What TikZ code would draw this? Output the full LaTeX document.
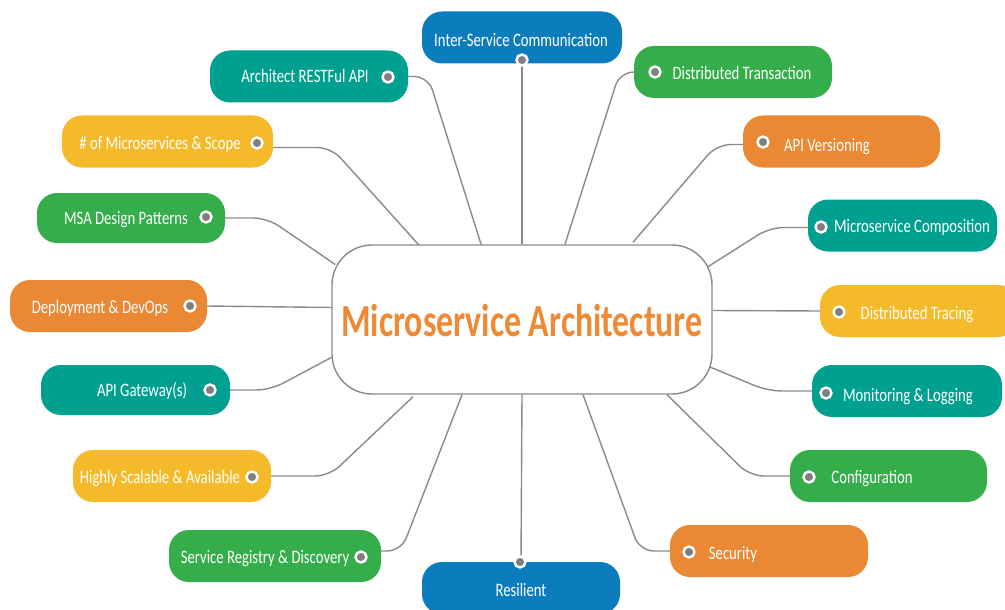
\documentclass[tikz,border=0pt]{standalone}
\usepackage{fontspec}
\setmainfont{Carlito}[FakeStretch=0.775]
\newfontfamily\hubfont{Carlito}[FakeStretch=0.735]
\usetikzlibrary{calc,backgrounds}

\definecolor{cteal}{HTML}{00A091}
\definecolor{cblue}{HTML}{0B7DBD}
\definecolor{cgreen}{HTML}{34AD4A}
\definecolor{corange}{HTML}{EA8834}
\definecolor{cyellow}{HTML}{F4BA29}
\definecolor{hubtext}{HTML}{EE8A35}
\definecolor{linkgray}{HTML}{8A8A8A}
\definecolor{dotgray}{HTML}{7F7F7F}

\tikzset{
  topic/.style={rectangle, rounded corners=20pt, draw=none, inner sep=0pt,
                minimum height=52pt},
  lbl/.style={anchor=base, text=white, inner sep=0pt,
              font=\fontsize{19}{22}\selectfont},
  dot/.style={circle, fill=dotgray, draw=white, line width=2.4pt,
              minimum size=11pt, inner sep=0pt},
  link/.style={draw=linkgray, line width=1.4pt, rounded corners=14pt},
  hubbox/.style={rectangle, rounded corners=40pt, draw=linkgray, line width=1.4pt,
                 fill=white, minimum width=380pt, minimum height=149pt, inner sep=0pt}
}

\begin{document}
\begin{tikzpicture}[x=1pt,y=-1pt]
\useasboundingbox (0,0) rectangle (1005,610);

% central topic
\node[hubbox] (hub) at (522,319.5) {};
\node[anchor=base, text=hubtext, inner sep=0pt,
      font=\hubfont\bfseries\fontsize{46}{50}\selectfont] (hubtitle) at (522,336) {Microservice Architecture};

% branch boxes
\node[topic, fill=cblue,   minimum width=200pt] (inter)    at (522,37.5)  {};
\node[topic, fill=cteal,   minimum width=198pt] (rest)     at (309,76.5)  {};
\node[topic, fill=cyellow, minimum width=211pt] (scope)    at (167.5,141.5) {};
\node[topic, fill=cgreen,  minimum width=188pt, minimum height=50pt] (msa) at (131,218) {};
\node[topic, fill=corange, minimum width=197pt] (deploy)   at (108.5,306) {};
\node[topic, fill=cteal,   minimum width=189pt, minimum height=50pt] (gateway) at (135.5,390) {};
\node[topic, fill=cyellow, minimum width=198pt] (highly)   at (172,476)   {};
\node[topic, fill=cgreen,  minimum width=212pt] (registry) at (275,556)   {};
\node[topic, fill=cblue,   minimum width=198pt] (resilient) at (521,588)  {};
\node[topic, fill=corange, minimum width=198pt] (security) at (769,551)   {};
\node[topic, fill=cgreen,  minimum width=197pt] (config)   at (888.5,476) {};
\node[topic, fill=cteal,   minimum width=190pt] (monitor)  at (907,391)   {};
\node[topic, fill=cyellow, minimum width=198pt] (tracing)  at (919,311)   {};
\node[topic, fill=cteal,   minimum width=189pt] (compos)   at (902.5,225.5) {};
\node[topic, fill=corange, minimum width=197pt] (version)  at (841.5,141.5) {};
\node[topic, fill=cgreen,  minimum width=198pt] (trans)    at (733,72)    {};

% connectors behind everything
\begin{scope}[on background layer]
\draw[link] (inter.south) -- (hub.north);
\draw[link] (rest.east) -- ++(20,0) -- ($(hub.north)+(-40,3)$);
\draw[link] ($(scope.east)+(0,6)$) -- ++(58,0) -- ($(hub.north)+(-102,2)$);
\draw[link] (msa.east) -- ++(42,0) -- ($(hub.west)+(4,-55)$);
\draw[link] (deploy.east) -- ($(hub.west)+(0,-12)$);
\draw[link] (gateway.east) -- ++(40,0) -- ($(hub.west)+(0,38)$);
\draw[link] (highly.east) -- ++(58,0) -- ($(hub.south)+(-109,2)$);
\draw[link] ($(registry.east)+(0,-5)$) -- ++(20,0) -- ($(hub.south)+(-60,0)$);
\draw[link] (hub.south) -- (resilient.north);
\draw[link] (security.west) -- ++(-30,0) -- ($(hub.south)+(61,0)$);
\draw[link] (config.west) -- ++(-40,0) -- ($(hub.south)+(145,0)$);
\draw[link] (monitor.west) -- ++(-44,0) -- ($(hub.east)+(-4,47)$);
\draw[link] (tracing.west) -- ($(hub.east)+(0,-9)$);
\draw[link] ($(compos.west)+(0,2)$) -- ++(-38,0) -- ($(hub.east)+(-6,-52)$);
\draw[link] ($(version.west)+(0,3)$) -- ++(-26,0) -- ($(hub.north)+(111,-2)$);
\draw[link] (trans.west) -- ++(-14,0) -- ($(hub.north)+(43,0)$);
\end{scope}

% labels
\node[lbl] (inter-t)    at (521,46.5)  {Inter-Service Communication};
\node[lbl] (rest-t)     at (305,83)    {Architect RESTFul API};
\node[lbl] (scope-t)    at (160,149.5) {\# of Microservices \& Scope};
\node[lbl] (msa-t)      at (126,224.5) {MSA Design Patterns};
\node[lbl] (deploy-t)   at (100,313.5) {Deployment \& DevOps};
\node[lbl] (gateway-t)  at (142,396.5) {API Gateway(s)};
\node[lbl] (highly-t)   at (160,483.5) {Highly Scalable \& Available};
\node[lbl] (registry-t) at (265,563.5) {Service Registry \& Discovery};
\node[lbl] (resilient-t) at (521,596.5) {Resilient};
\node[lbl] (security-t) at (733,559.5) {Security};
\node[lbl] (config-t)   at (872,483.5) {Configuration};
\node[lbl] (monitor-t)  at (908,401.5) {Monitoring \& Logging};
\node[lbl] (tracing-t)  at (917,319.5) {Distributed Tracing};
\node[lbl] (compos-t)   at (912,232.5) {Microservice Composition};
\node[lbl] (version-t)  at (827,151.5) {API Versioning};
\node[lbl] (trans-t)    at (742,79.5)  {Distributed Transaction};

% attachment dots
\node[dot] (inter-d)    at (522,60)  {};
\node[dot] (rest-d)     at (388,77)  {};
\node[dot] (scope-d)    at (257,143) {};
\node[dot] (msa-d)      at (206,217) {};
\node[dot] (deploy-d)   at (190,306) {};
\node[dot] (gateway-d)  at (210,390) {};
\node[dot] (highly-d)   at (252,477) {};
\node[dot] (registry-d) at (361,557) {};
\node[dot] (resilient-d) at (520,562) {};
\node[dot] (security-d) at (689,552) {};
\node[dot] (config-d)   at (809,477) {};
\node[dot] (monitor-d)  at (826,393) {};
\node[dot] (tracing-d)  at (839,312) {};
\node[dot] (compos-d)   at (821,227) {};
\node[dot] (version-d)  at (763,142) {};
\node[dot] (trans-d)    at (655,72)  {};
\end{tikzpicture}
\end{document}
